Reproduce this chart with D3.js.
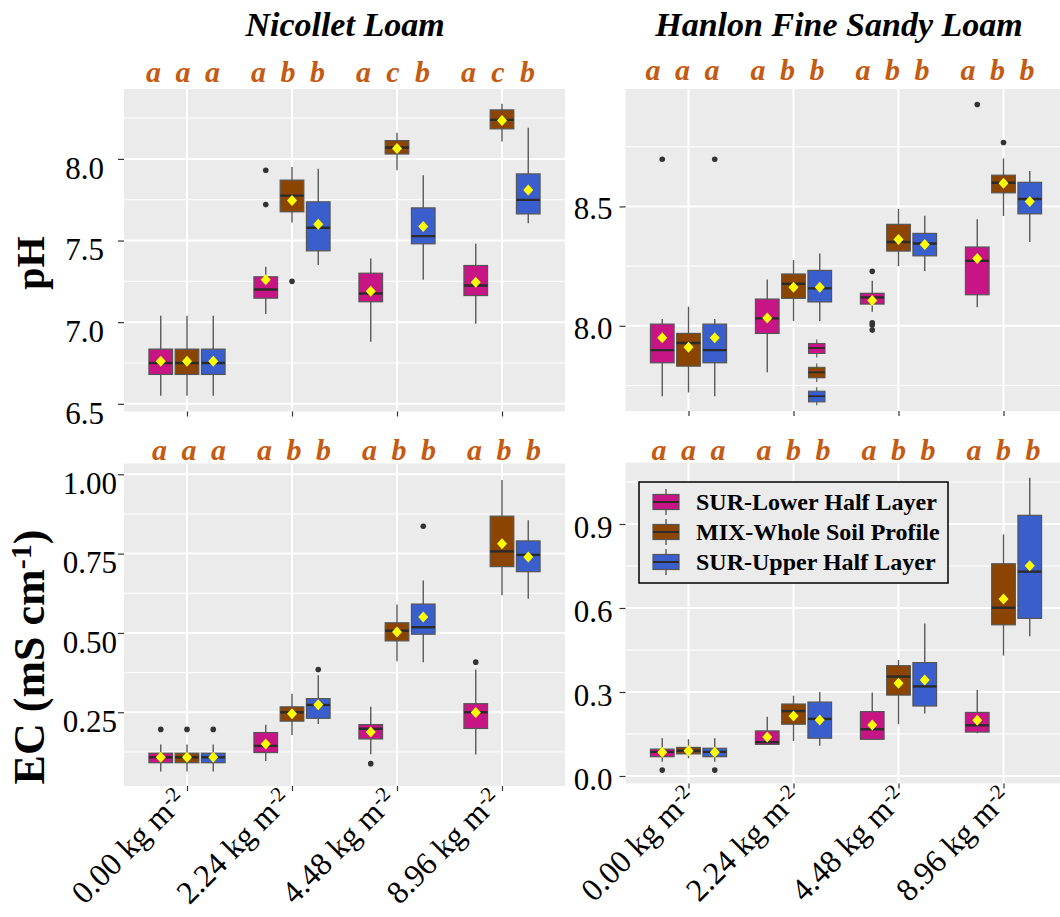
<!DOCTYPE html>
<html>
<head>
<meta charset="utf-8">
<script src="https://cdn.jsdelivr.net/npm/d3@7"></script>
<style>
  body { margin: 0; background: #fff; }
  svg text { font-family: "Liberation Serif", "Times New Roman", serif; }
</style>
</head>
<body>
<svg id="chart" width="1060" height="917"></svg>
<script>
// Inputs

const doses = ["0.00", "2.24", "4.48", "8.96"];
const treatments = ["SUR-Lower Half Layer", "MIX-Whole Soil Profile", "SUR-Upper Half Layer"];
const fills = ["#C71585", "#8B4500", "#3A5FCD"];

// box stats per dose, one row per treatment:
// [lower whisker, q1, median, q3, upper whisker, mean]
const nicolletPH = [
  [[6.55, 6.68, 6.75, 6.835, 7.04, 6.76], [6.55, 6.68, 6.75, 6.835, 7.04, 6.76], [6.55, 6.68, 6.75, 6.835, 7.04, 6.76]],
  [[7.05, 7.147, 7.2, 7.278, 7.34, 7.26], [7.61, 7.676, 7.775, 7.87, 7.95, 7.745], [7.35, 7.437, 7.578, 7.737, 7.94, 7.6]],
  [[6.88, 7.125, 7.176, 7.3, 7.39, 7.19], [7.93, 8.03, 8.07, 8.112, 8.16, 8.063], [7.26, 7.48, 7.527, 7.7, 7.9, 7.586]],
  [[6.99, 7.163, 7.225, 7.347, 7.48, 7.245], [8.106, 8.184, 8.239, 8.3, 8.337, 8.235], [7.606, 7.663, 7.749, 7.908, 8.19, 7.81]]
];
const hanlonPH = [
  [[7.705, 7.845, 7.898, 8.007, 8.028, 7.95], [7.72, 7.831, 7.928, 7.968, 8.08, 7.91], [7.705, 7.845, 7.898, 8.007, 8.028, 7.95]],
  [[7.805, 7.968, 8.031, 8.112, 8.194, 8.033], [8.02, 8.115, 8.176, 8.217, 8.275, 8.161], [8.02, 8.1, 8.157, 8.232, 8.303, 8.161]],
  [[8.059, 8.091, 8.119, 8.136, 8.189, 8.106], [8.25, 8.313, 8.351, 8.425, 8.489, 8.362], [8.23, 8.293, 8.345, 8.387, 8.461, 8.341]],
  [[8.078, 8.13, 8.272, 8.33, 8.446, 8.282], [8.46, 8.557, 8.599, 8.631, 8.701, 8.597], [8.351, 8.469, 8.531, 8.601, 8.648, 8.521]]
];
const nicolletEC = [
  [[0.063, 0.091, 0.108, 0.121, 0.148, 0.108], [0.063, 0.091, 0.108, 0.121, 0.148, 0.108], [0.063, 0.091, 0.108, 0.121, 0.148, 0.108]],
  [[0.096, 0.123, 0.144, 0.186, 0.211, 0.15], [0.178, 0.222, 0.25, 0.267, 0.308, 0.245], [0.213, 0.231, 0.273, 0.293, 0.367, 0.274]],
  [[0.118, 0.166, 0.198, 0.211, 0.267, 0.188], [0.411, 0.475, 0.507, 0.532, 0.59, 0.503], [0.408, 0.496, 0.518, 0.591, 0.665, 0.55]],
  [[0.117, 0.199, 0.25, 0.277, 0.385, 0.249], [0.619, 0.709, 0.757, 0.868, 0.982, 0.781], [0.608, 0.693, 0.746, 0.79, 0.855, 0.739]]
];
const hanlonEC = [
  [[0.051, 0.069, 0.086, 0.096, 0.135, 0.085], [0.063, 0.079, 0.09, 0.102, 0.131, 0.09], [0.051, 0.069, 0.086, 0.099, 0.135, 0.085]],
  [[0.111, 0.113, 0.121, 0.161, 0.212, 0.139], [0.125, 0.185, 0.232, 0.257, 0.287, 0.214], [0.108, 0.135, 0.204, 0.264, 0.3, 0.2]],
  [[0.129, 0.131, 0.167, 0.23, 0.298, 0.182], [0.185, 0.289, 0.355, 0.394, 0.414, 0.331], [0.223, 0.25, 0.32, 0.405, 0.545, 0.343]],
  [[0.153, 0.157, 0.181, 0.227, 0.307, 0.199], [0.43, 0.54, 0.601, 0.758, 0.863, 0.632], [0.499, 0.563, 0.73, 0.931, 1.065, 0.751]]
];

// outliers: [dose index, treatment index, value]
const nicolletPHOut = [[1, 0, 7.93], [1, 0, 7.72], [1, 1, 7.25]];
const hanlonPHOut = [[0, 0, 8.698], [0, 2, 8.698], [2, 0, 8.228], [2, 0, 8.013], [2, 0, 8.003], [2, 0, 7.982], [3, 0, 8.927], [3, 1, 8.768]];
const nicolletECOut = [[0, 0, 0.196], [0, 1, 0.196], [0, 2, 0.196], [1, 2, 0.385], [2, 0, 0.088], [2, 2, 0.836], [3, 0, 0.408]];
const hanlonECOut = [[0, 0, 0.021], [0, 2, 0.021]];

// small stray boxes sitting at 2.24 in the Hanlon pH panel
const hanlonPHStray = [
  [7.867, 7.884, 7.907, 7.926, 7.943],
  [7.765, 7.782, 7.805, 7.826, 7.842],
  [7.667, 7.681, 7.705, 7.726, 7.742]
];

// significance letters per dose
const nicolletPHLetters = [["a", "a", "a"], ["a", "b", "b"], ["a", "c", "b"], ["a", "c", "b"]];
const hanlonPHLetters = [["a", "a", "a"], ["a", "b", "b"], ["a", "b", "b"], ["a", "b", "b"]];
const nicolletECLetters = [["a", "a", "a"], ["a", "b", "b"], ["a", "b", "b"], ["a", "b", "b"]];
const hanlonECLetters = [["a", "a", "a"], ["a", "b", "b"], ["a", "b", "b"], ["a", "b", "b"]];

// y axes
const nicolletPHTicks = [6.5, 7.0, 7.5, 8.0];
const hanlonPHTicks = [8.0, 8.5];
const nicolletECTicks = [0.25, 0.5, 0.75, 1.0];
const hanlonECTicks = [0.0, 0.3, 0.6, 0.9];

const svg = d3.select("#chart");
const letterColor = "#C55A11";

const drawPanel = (p) => {
  const g = svg.append("g");
  const clipId = "clip-" + p.id;
  svg.append("clipPath").attr("id", clipId)
    .append("rect").attr("x", p.x0).attr("y", p.y0)
    .attr("width", p.x1 - p.x0).attr("height", p.y1 - p.y0);

  const x = d3.scalePoint().domain(doses).range([p.x0, p.x1]).padding(0.6);
  const dodge = d3.scaleBand().domain(treatments)
    .range([-x.step() * 0.375, x.step() * 0.375]);
  const bw = dodge.bandwidth() * 0.9;
  const y = d3.scaleLinear().domain(p.domain).range([p.y1, p.y0]);
  const cx = (di, ti) => x(doses[di]) + dodge(treatments[ti]) + dodge.bandwidth() / 2;

  // Background + grid
  g.append("rect")
    .attr("x", p.x0).attr("y", p.y0)
    .attr("width", p.x1 - p.x0).attr("height", p.y1 - p.y0)
    .attr("fill", "#EBEBEB");

  const step = p.ticks[1] - p.ticks[0];
  const minor = [p.ticks[0] - step / 2].concat(p.ticks.map((t) => t + step / 2))
    .filter((v) => v > p.domain[0] && v < p.domain[1]);
  const plot = g.append("g").attr("clip-path", `url(#${clipId})`);

  plot.selectAll(".minor").data(minor).enter().append("line")
    .attr("x1", p.x0).attr("x2", p.x1)
    .attr("y1", (d) => y(d)).attr("y2", (d) => y(d))
    .attr("stroke", "#fff").attr("stroke-width", 1);
  plot.selectAll(".major").data(p.ticks).enter().append("line")
    .attr("x1", p.x0).attr("x2", p.x1)
    .attr("y1", (d) => y(d)).attr("y2", (d) => y(d))
    .attr("stroke", "#fff").attr("stroke-width", 2);
  plot.selectAll(".vgrid").data(doses).enter().append("line")
    .attr("x1", (d) => x(d)).attr("x2", (d) => x(d))
    .attr("y1", p.y0).attr("y2", p.y1)
    .attr("stroke", "#fff").attr("stroke-width", 2);

  // Boxes
  const boxes = [];
  p.stats.forEach((row, di) => row.forEach((s, ti) => boxes.push({ di, ti, s })));

  const bg = plot.selectAll("g.box").data(boxes).enter().append("g").classed("box", true);
  bg.append("line")
    .attr("x1", (d) => cx(d.di, d.ti)).attr("x2", (d) => cx(d.di, d.ti))
    .attr("y1", (d) => y(d.s[4])).attr("y2", (d) => y(d.s[0]))
    .attr("stroke", "#5a5a5a").attr("stroke-width", 1.4);
  bg.append("rect")
    .attr("x", (d) => cx(d.di, d.ti) - bw / 2).attr("width", bw)
    .attr("y", (d) => y(d.s[3])).attr("height", (d) => y(d.s[1]) - y(d.s[3]))
    .attr("fill", (d) => fills[d.ti])
    .attr("stroke", "#555").attr("stroke-width", 1.2);
  bg.append("line")
    .attr("x1", (d) => cx(d.di, d.ti) - bw / 2).attr("x2", (d) => cx(d.di, d.ti) + bw / 2)
    .attr("y1", (d) => y(d.s[2])).attr("y2", (d) => y(d.s[2]))
    .attr("stroke", "#2b2b2b").attr("stroke-width", 2.4);

  // Stray small boxes
  if (p.stray) {
    const sw = bw * 0.7;
    const sx = x(doses[1]) + dodge(treatments[2]) + dodge.bandwidth() / 2 - 3;
    const sg = plot.selectAll("g.stray").data(p.stray).enter().append("g");
    sg.append("line")
      .attr("x1", sx).attr("x2", sx)
      .attr("y1", (d) => y(d[4])).attr("y2", (d) => y(d[0]))
      .attr("stroke", "#5a5a5a").attr("stroke-width", 1.2);
    sg.append("rect")
      .attr("x", sx - sw / 2).attr("width", sw)
      .attr("y", (d) => y(d[3])).attr("height", (d) => y(d[1]) - y(d[3]))
      .attr("fill", (d, i) => fills[i]).attr("stroke", "#555").attr("stroke-width", 1);
    sg.append("line")
      .attr("x1", sx - sw / 2).attr("x2", sx + sw / 2)
      .attr("y1", (d) => y(d[2])).attr("y2", (d) => y(d[2]))
      .attr("stroke", "#2b2b2b").attr("stroke-width", 1.8);
  }

  // Outliers
  plot.selectAll(".outlier").data(p.outliers).enter().append("circle")
    .attr("cx", (d) => cx(d[0], d[1])).attr("cy", (d) => y(d[2]))
    .attr("r", 2.8).attr("fill", "#333");

  // Means
  plot.selectAll(".mean").data(boxes).enter().append("path")
    .attr("d", "M0,-5.5L5,0L0,5.5L-5,0Z")
    .attr("transform", (d) => `translate(${cx(d.di, d.ti)},${y(d.s[5])})`)
    .attr("fill", "#FFFF00");

  // Y axis
  const yAxis = g.append("g")
    .attr("transform", `translate(${p.x0},0)`)
    .call(d3.axisLeft(y).tickValues(p.ticks).tickFormat(d3.format(p.fmt))
      .tickSize(6).tickPadding(p.labelPad));
  yAxis.select(".domain").remove();
  yAxis.selectAll(".tick line").attr("stroke", "#333").attr("stroke-width", 1.2);
  yAxis.selectAll(".tick text")
    .attr("fill", "#000").attr("font-size", 31).attr("dy", p.labelDy)
    .style("font-family", "Liberation Serif");

  // X axis ticks
  const xAxis = g.append("g")
    .attr("transform", `translate(0,${p.y1})`)
    .call(d3.axisBottom(x).tickSize(5).tickFormat(""));
  xAxis.select(".domain").remove();
  xAxis.selectAll(".tick line").attr("stroke", "#333").attr("stroke-width", 1.2);

  if (p.xLabels) {
    const xl = g.selectAll(".xlab").data(doses).enter().append("text")
      .attr("transform", (d) => `translate(${x(d) + p.xLabelDx},${p.y1 + 16}) rotate(-45)`)
      .attr("text-anchor", "end")
      .attr("font-size", 32);
    xl.append("tspan").text((d) => d + " kg m");
    xl.append("tspan").attr("dy", "-0.45em").attr("font-size", 21).text("-2");
  }

  // Letters
  const letters = [];
  p.letters.forEach((row, di) => row.forEach((l, ti) => letters.push({ di, ti, l })));
  g.selectAll(".letter").data(letters).enter().append("text")
    .attr("x", (d) => x(doses[d.di]) + (d.ti - 1) * 29.5 + p.letterDx)
    .attr("y", p.letterY)
    .attr("text-anchor", "middle")
    .attr("font-size", 30).attr("font-weight", "bold").attr("font-style", "italic")
    .attr("fill", letterColor)
    .text((d) => d.l);
};

drawPanel({
  id: "tl", x0: 124, x1: 565, y0: 89, y1: 411.5, domain: [6.453, 8.428],
  stats: nicolletPH, outliers: nicolletPHOut, letters: nicolletPHLetters,
  ticks: nicolletPHTicks, fmt: ".1f", labelPad: 14, labelDy: "0.62em",
  letterY: 82, letterDx: -4
});
drawPanel({
  id: "tr", x0: 625.5, x1: 1066.5, y0: 89, y1: 411, domain: [7.643, 8.992],
  stats: hanlonPH, outliers: hanlonPHOut, letters: hanlonPHLetters, stray: hanlonPHStray,
  ticks: hanlonPHTicks, fmt: ".1f", labelPad: 7, labelDy: "0.4em",
  letterY: 80, letterDx: -6
});
drawPanel({
  id: "bl", x0: 124, x1: 565, y0: 463.5, y1: 786, domain: [0.0176, 1.034],
  stats: nicolletEC, outliers: nicolletECOut, letters: nicolletECLetters,
  ticks: nicolletECTicks, fmt: ".2f", labelPad: 1, labelDy: "0.62em",
  letterY: 460, letterDx: 2, xLabels: true, xLabelDx: 1
});
drawPanel({
  id: "br", x0: 625.5, x1: 1066.5, y0: 462.7, y1: 783.5, domain: [-0.0268, 1.119],
  stats: hanlonEC, outliers: hanlonECOut, letters: hanlonECLetters,
  ticks: hanlonECTicks, fmt: ".1f", labelPad: 7, labelDy: "0.45em",
  letterY: 460, letterDx: 0, xLabels: true, xLabelDx: 9
});

// Titles
svg.append("text").attr("x", 345).attr("y", 36).attr("text-anchor", "middle")
  .attr("font-size", 34).attr("font-weight", "bold").attr("font-style", "italic")
  .text("Nicollet Loam");
svg.append("text").attr("x", 839).attr("y", 36).attr("text-anchor", "middle")
  .attr("font-size", 34).attr("font-weight", "bold").attr("font-style", "italic")
  .text("Hanlon Fine Sandy Loam");

// Y titles
svg.append("text").attr("transform", "translate(44,263) rotate(-90)")
  .attr("text-anchor", "middle").attr("font-size", 40).attr("font-weight", "bold")
  .text("pH");
const ecTitle = svg.append("text").attr("transform", "translate(44,657) rotate(-90)")
  .attr("text-anchor", "middle").attr("font-size", 44).attr("font-weight", "bold");
ecTitle.append("tspan").text("EC (mS cm");
ecTitle.append("tspan").attr("dy", "-0.42em").attr("font-size", 30).text("-1");
ecTitle.append("tspan").attr("dy", "0.29em").text(")");

// Legend
const legend = svg.append("g").attr("transform", "translate(639,482)");
legend.append("rect").attr("width", 309).attr("height", 101)
  .attr("fill", "#EBEBEB").attr("stroke", "#000").attr("stroke-width", 1.5);
const rowY = d3.scalePoint().domain(treatments).range([20, 80]);
const keys = legend.selectAll("g.key").data(treatments).enter().append("g")
  .attr("transform", (d) => `translate(27,${rowY(d)})`);
keys.append("line").attr("y1", -13).attr("y2", 13)
  .attr("stroke", "#5a5a5a").attr("stroke-width", 1.4);
keys.append("rect").attr("x", -13).attr("y", -7.5).attr("width", 26).attr("height", 15)
  .attr("fill", (d, i) => fills[i]).attr("stroke", "#555").attr("stroke-width", 1.2);
keys.append("line").attr("x1", -13).attr("x2", 13)
  .attr("stroke", "#2b2b2b").attr("stroke-width", 2);
keys.append("text").attr("x", 30).attr("y", 8)
  .attr("font-size", 24).attr("font-weight", "bold")
  .text((d) => d);
</script>
</body>
</html>
